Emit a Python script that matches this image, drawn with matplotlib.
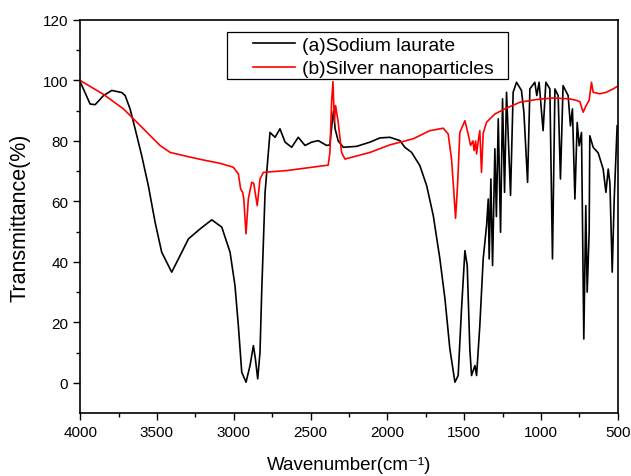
import matplotlib.pyplot as plt
from matplotlib.patches import Rectangle

plt.rcParams['font.family'] = ['Liberation Sans', 'DejaVu Sans']

# (a) Sodium laurate - wavenumber / transmittance
wn_a = [4000, 3935, 3902, 3848, 3794, 3729, 3707, 3675, 3642, 3599, 3556, 3512,
        3469, 3404, 3349, 3295, 3219, 3143, 3078, 3024, 2992, 2970, 2948, 2920,
        2894, 2872, 2859, 2844, 2829, 2818, 2796, 2764, 2731, 2699, 2666, 2623,
        2580, 2536, 2493, 2450, 2395, 2374, 2360, 2350, 2340, 2320, 2287, 2200,
        2113, 2048, 1983, 1918, 1886, 1842, 1788, 1744, 1701, 1658, 1625, 1593,
        1560, 1539, 1517, 1495, 1480, 1463, 1452, 1430, 1419, 1398, 1376, 1354,
        1343, 1337, 1326, 1315, 1300, 1290, 1278, 1263, 1250, 1237, 1224, 1198,
        1181, 1159, 1127, 1111, 1087, 1072, 1040, 1027, 1012, 986, 968, 942,
        925, 909, 888, 873, 856, 823, 808, 795, 779, 764, 751, 736, 721, 708,
        699, 686, 682, 660, 627, 595, 577, 562, 551, 536, 523, 504]
tr_a = [99.6, 92.2, 92.0, 95.0, 96.7, 96.0, 95.0, 90.6, 84.0, 75.1, 65.2, 53.1,
        43.2, 36.6, 42.1, 47.6, 50.9, 53.9, 51.5, 43.2, 32.2, 18.9, 3.5, 0.2,
        5.7, 12.3, 7.9, 1.3, 10.1, 30.0, 63.0, 82.8, 81.2, 84.0, 79.6, 77.9,
        81.2, 78.5, 79.6, 80.1, 78.5, 78.7, 86.0, 90.0, 84.0, 80.0, 77.9, 78.2,
        79.6, 81.0, 81.2, 80.1, 77.9, 76.2, 71.8, 65.2, 55.3, 41.0, 27.8, 11.2,
        0.2, 2.4, 24.5, 43.7, 38.8, 11.2, 2.4, 5.7, 2.4, 18.9, 41.0, 52.0,
        60.8, 41.0, 67.4, 38.8, 77.4, 55.0, 87.3, 49.8, 93.9, 63.0, 96.1, 62.0,
        96.1, 99.4, 96.7, 89.5, 66.3, 97.2, 99.4, 95.0, 99.4, 83.4, 99.4, 97.2,
        41.0, 97.2, 95.0, 67.4, 98.3, 95.0, 85.0, 90.6, 60.8, 86.1, 78.4, 82.8,
        14.5, 58.6, 30.0, 50.0, 81.7, 77.9, 76.0, 70.7, 63.0, 70.7, 66.0, 36.6,
        60.8, 85.0]

# (b) Silver nanoparticles
wn_b = [4000, 3848, 3718, 3631, 3545, 3480, 3414, 3306, 3198, 3089, 3003, 2970,
        2955, 2942, 2935, 2920, 2905, 2883, 2870, 2847, 2829, 2807, 2655, 2385,
        2374, 2363, 2354, 2345, 2337, 2320, 2298, 2276, 2113, 1983, 1832, 1723,
        1636, 1604, 1582, 1567, 1556, 1543, 1528, 1495, 1475, 1458, 1443, 1435,
        1425, 1419, 1408, 1398, 1387, 1376, 1354, 1300, 1235, 1137, 1029, 921,
        812, 769, 747, 725, 708, 686, 671, 660, 617, 574, 530, 504]
tr_b = [100.0, 95.4, 90.6, 86.2, 81.8, 78.5, 76.2, 74.9, 73.7, 72.6, 71.3, 69.1,
        64.1, 63.0, 61.0, 49.3, 60.8, 66.3, 66.0, 58.6, 67.4, 69.6, 70.2, 72.0,
        76.2, 92.8, 99.6, 86.2, 91.7, 86.2, 76.2, 74.0, 76.2, 78.7, 80.7, 83.4,
        84.2, 82.3, 74.0, 63.0, 54.4, 65.2, 82.8, 86.7, 82.5, 78.5, 80.0, 76.8,
        80.0, 75.7, 80.0, 83.4, 69.6, 82.5, 86.2, 88.9, 90.6, 92.8, 93.7, 94.2,
        93.9, 93.4, 93.0, 89.5, 91.5, 93.5, 99.4, 96.1, 95.6, 96.1, 97.2, 98.0]

fig = plt.figure(figsize=(6.31, 4.77), dpi=100)
ax = fig.add_axes([0.127, 0.132, 0.852, 0.824])

ax.plot(wn_a, tr_a, color='black', lw=1.2, label='(a)Sodium laurate')
ax.plot(wn_b, tr_b, color='red', lw=1.2, label='(b)Silver nanoparticles')

ax.set_xlim(4000, 500)
ax.set_ylim(-10, 120)
ax.set_xticks([4000, 3500, 3000, 2500, 2000, 1500, 1000, 500])
ax.set_xticks([3750, 3250, 2750, 2250, 1750, 1250, 750], minor=True)
ax.set_yticks([0, 20, 40, 60, 80, 100, 120])
ax.set_yticks([10, 30, 50, 70, 90, 110], minor=True)
ax.tick_params(which='major', direction='out', length=5, width=1, labelsize=11)
ax.tick_params(which='minor', direction='out', length=3, width=1)
for s in ax.spines.values():
    s.set_linewidth(1.2)

ax.set_xlabel('Wavenumber(cm⁻¹)', fontsize=13.5, labelpad=12)
ax.set_ylabel('Transmittance(%)', fontsize=15.5, labelpad=9)

# legend box drawn by hand, entries without frame
ax.add_patch(Rectangle((0.273, 0.85), 0.5225, 0.1195, transform=ax.transAxes,
                       facecolor='white', edgecolor='black', lw=0.9, zorder=4))
leg = ax.legend(loc='upper left', bbox_to_anchor=(0.3216, 0.958), borderaxespad=0,
                fontsize=13.9, frameon=False, handlelength=2.18, borderpad=0,
                labelspacing=0.3, handletextpad=0.36)
leg.set_zorder(5)

fig.savefig('out.png', dpi=100)
